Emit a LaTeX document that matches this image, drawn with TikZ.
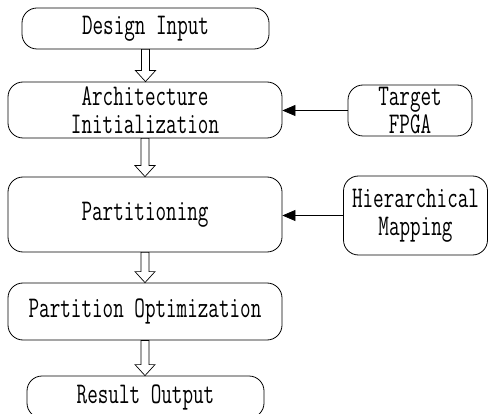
\documentclass[tikz,border=0pt]{standalone}
\usepackage{fontspec}
\setmonofont[FakeStretch=0.685]{Latin Modern Mono}
\usetikzlibrary{arrows.meta,calc}
\tikzset{
  box/.style={draw, line width=0.8pt, rounded corners=15pt, fill=white, align=center,
    font=\fontsize{30}{28}\ttfamily, inner sep=0pt},
  feed/.style={draw, line width=0.8pt, -{Triangle[length=13pt,width=11pt]}},
  hollow/.style={draw, line width=0.7pt, fill=white, line join=miter}
}
\newcommand{\blockarrow}[2]{%
  \path let \p1=(#1.south), \p2=(#2.north) in
    [hollow] (\x1-4,\y1) -- (\x1-4,\y2+11) -- (\x1-10,\y2+11) -- (\x1,\y2)
    -- (\x1+10,\y2+11) -- (\x1+4,\y2+11) -- (\x1+4,\y1) -- cycle;}
\begin{document}
\begin{tikzpicture}[x=1pt,y=1pt]
\useasboundingbox (0,0) rectangle (490,-414);
\begin{scope}
\clip (0,0) rectangle (490,-414);
\node[box, minimum width=247pt, minimum height=41pt] (di) at (145.5,-28.5) {Design Input};
\node[box, minimum width=274pt, minimum height=56pt] (arch) at (145,-110) {Architecture\\Initialization};
\node[box, minimum width=124pt, minimum height=51pt] (tgt) at (410,-110.5) {Target\\FPGA};
\node[box, minimum width=274pt, minimum height=75pt] (part) at (145,-214.5) {Partitioning};
\node[box, minimum width=144pt, minimum height=79pt] (hier) at (415.5,-215.5) {Hierarchical\\Mapping};
\node[box, minimum width=274pt, minimum height=57pt] (opt) at (145,-311.5) {Partition Optimization};
\node[box, minimum width=237pt, minimum height=42pt] (res) at (145.5,-397) {Result Output};
\blockarrow{di}{arch}
\blockarrow{arch}{part}
\blockarrow{part}{opt}
\blockarrow{opt}{res}
\draw[feed] (tgt.west) -- (arch.east |- tgt.west);
\draw[feed] (hier.west) -- (part.east |- hier.west);
\end{scope}
\end{tikzpicture}
\end{document}
